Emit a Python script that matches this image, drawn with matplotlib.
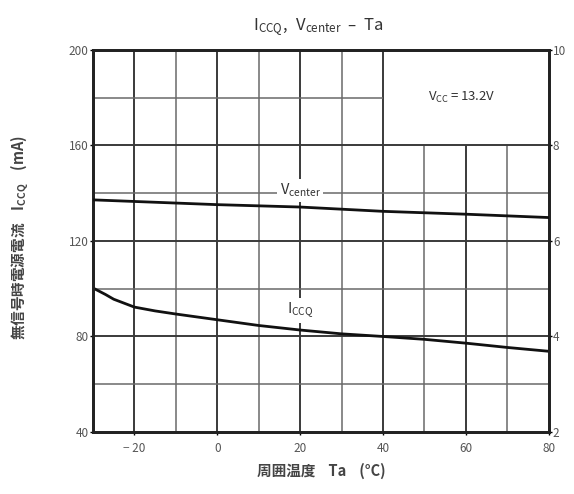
import matplotlib.pyplot as plt
import numpy as np

plt.rcParams['font.family'] = ['Noto Sans CJK JP', 'DejaVu Sans']

# data
ta = [-30, -27, -25, -20, -15, -10, 0, 10, 20, 30, 40, 50, 60, 70, 80]
iccq = [100.3, 97.6, 95.6, 92.3, 90.7, 89.4, 87.0, 84.6, 82.7, 81.1, 80.0,
        78.8, 77.2, 75.4, 73.8]
ta_v = [-30, 0, 20, 40, 60, 80]
vcenter = [6.86, 6.76, 6.71, 6.62, 6.56, 6.49]

xticks = [-20, 0, 20, 40, 60, 80]
xtick_labels = ['\u2212 20', '0', '20', '40', '60', '80']
yticks_l = [40, 80, 120, 160, 200]
yticks_r = [2, 4, 6, 8, 10]

fig = plt.figure(figsize=(5.74, 4.94), dpi=100)
ax = fig.add_axes([0.162, 0.1255, 0.794, 0.7735])
ax.set_xlim(-30, 80)
ax.set_ylim(40, 200)

# grid: top-right block (x>40, y>160) is left empty for the note
for x in range(-20, 80, 10):
    top = 200 if x <= 40 else 160
    major = x % 20 == 0
    ax.vlines(x, 40, top, color='#3a3a3a' if major else '#6a6a6a',
              lw=1.4 if major else 1.1, zorder=1)
for y in range(60, 200, 20):
    right = 40 if y > 160 else 80
    major = y % 40 == 0
    ax.hlines(y, -30, right, color='#3a3a3a' if major else '#6a6a6a',
              lw=1.4 if major else 1.1, zorder=1)

ax.plot(ta, iccq, color='#111', lw=2.0, zorder=3)

ax2 = ax.twinx()
ax2.set_ylim(2, 10)
ax2.plot(ta_v, vcenter, color='#111', lw=2.0, zorder=3)

ax.set_xticks(xticks)
ax.set_xticklabels(xtick_labels)
ax.set_yticks(yticks_l)
ax2.set_yticks(yticks_r)
for a in (ax, ax2):
    a.tick_params(labelsize=8.5, labelcolor='#555', length=2, width=1, pad=1)
    for s in a.spines.values():
        s.set_linewidth(2)
        s.set_color('#222')
ax.tick_params(axis='x', pad=5)

ax.text(20, 141, r'$\mathregular{V_{center}}$', ha='center', va='center',
        fontsize=10.5, color='#333', zorder=4,
        bbox=dict(fc='white', ec='none', pad=2))
ax.text(20, 91, r'$\mathregular{I_{CCQ}}$', ha='center', va='center',
        fontsize=10.5, color='#333', zorder=4,
        bbox=dict(fc='white', ec='none', pad=2))
ax.text(59, 180, r'$\mathregular{V_{CC}=13.2V}$', ha='center', va='center',
        fontsize=9.5, color='#333')

fig.text(0.555, 0.945, r'$\mathregular{I_{CCQ},\ V_{center}}$' + '  \u2013  Ta',
         ha='center', va='center', fontsize=12, color='#333')
ax.set_xlabel('周囲温度    Ta    (°C)', fontsize=10.5, color='#444',
              labelpad=6, fontweight='bold')
fig.text(0.035, 0.52, '無信号時電源電流    $\\mathregular{I_{CCQ}}$    (mA)',
         rotation=90, ha='center', va='center', fontsize=10.5, color='#444',
         fontweight='bold')

fig.savefig('out.png', dpi=100)
